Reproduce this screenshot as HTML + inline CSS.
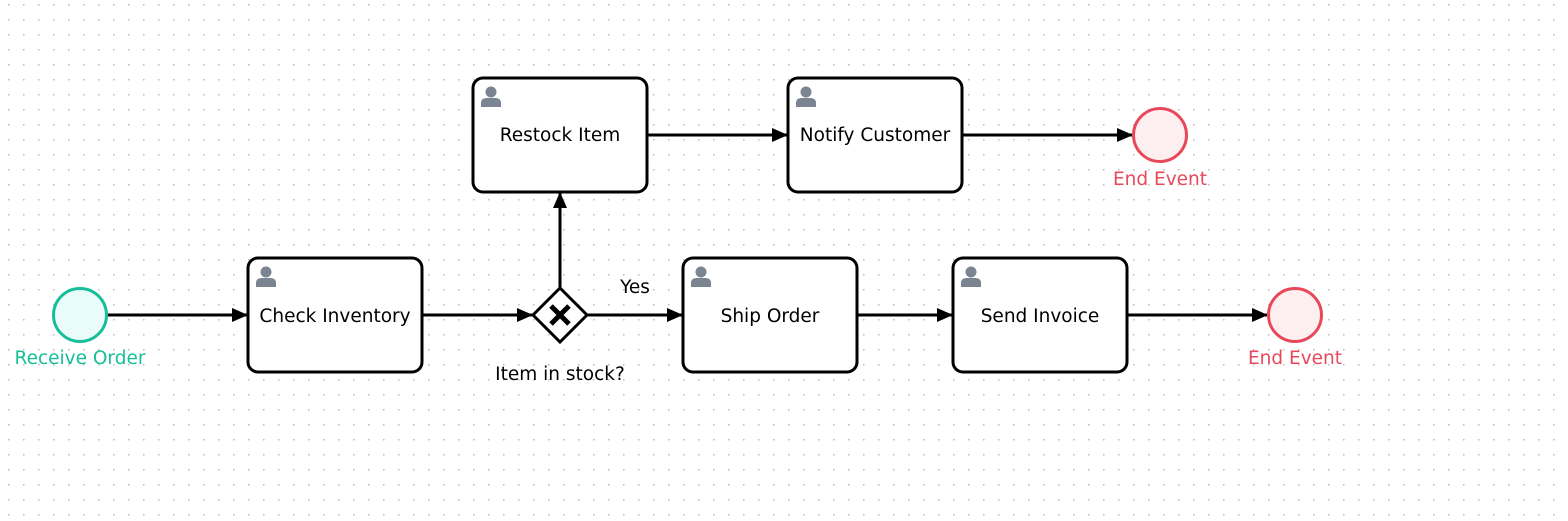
<!DOCTYPE html>
<html><head><style>html,body{margin:0;padding:0;background:#fff}</style></head><body>
<svg width="1568" height="516" xmlns="http://www.w3.org/2000/svg" font-family="'DejaVu Sans', 'Liberation Sans', sans-serif">
<defs>
<pattern id="dots" x="8" y="4" width="15" height="15" patternUnits="userSpaceOnUse"><rect width="1.5" height="1.5" fill="#bbbbbb"/></pattern>
<marker id="ar" markerWidth="16" markerHeight="16" refX="15" refY="8" orient="auto" markerUnits="userSpaceOnUse" viewBox="0 0 16 16"><path d="M0,1 L16,8 L0,15 z" fill="#000"/></marker>
<g id="user"><circle cx="0" cy="-6" r="5.5" fill="#7a8591"/><path d="M-10,9 L-10,5 Q-10,0 -4,0 L4,0 Q10,0 10,5 L10,9 Z" fill="#7a8591"/></g>
</defs>
<rect width="1568" height="516" fill="url(#dots)"/>
<g stroke="#000" stroke-width="3" fill="none" marker-end="url(#ar)">
<line x1="107" y1="315" x2="247" y2="315"/>
<line x1="423" y1="315" x2="532" y2="315"/>
<line x1="588" y1="315" x2="682" y2="315"/>
<line x1="560" y1="288" x2="560" y2="193"/>
<line x1="648" y1="135" x2="787" y2="135"/>
<line x1="963" y1="135" x2="1132" y2="135"/>
<line x1="858" y1="315" x2="952" y2="315"/>
<line x1="1128" y1="315" x2="1267" y2="315"/>
</g>
<circle cx="80" cy="315" r="26.5" fill="#eafcf9" stroke="#17bf99" stroke-width="3"/>
<circle cx="1160" cy="135" r="26.5" fill="#fdeef0" stroke="#e8485a" stroke-width="3"/>
<circle cx="1295" cy="315" r="26.5" fill="#fdeef0" stroke="#e8485a" stroke-width="3"/>
<g fill="#fff" stroke="#000" stroke-width="3">
<rect x="248" y="258" width="174" height="114" rx="10"/>
<rect x="473" y="78" width="174" height="114" rx="10"/>
<rect x="788" y="78" width="174" height="114" rx="10"/>
<rect x="683" y="258" width="174" height="114" rx="10"/>
<rect x="953" y="258" width="174" height="114" rx="10"/>
<path d="M560,288 L587,315 L560,342 L533,315 Z"/>
</g>
<path d="M551,306 L569,324 M569,306 L551,324" stroke="#000" stroke-width="5"/>
<use href="#user" x="266" y="278"/>
<use href="#user" x="491" y="98"/>
<use href="#user" x="806" y="98"/>
<use href="#user" x="701" y="278"/>
<use href="#user" x="971" y="278"/>
<g font-size="18.5" text-anchor="middle" fill="#000">
<text x="335" y="322">Check Inventory</text>
<text x="560" y="141">Restock Item</text>
<text x="875" y="141">Notify Customer</text>
<text x="770" y="322">Ship Order</text>
<text x="1040" y="322">Send Invoice</text>
<text x="560" y="380">Item in stock?</text>
<text x="635" y="293">Yes</text>
<text x="80" y="364" fill="#17bf99">Receive Order</text>
<text x="1160" y="185" fill="#e8485a">End Event</text>
<text x="1295" y="364" fill="#e8485a">End Event</text>
</g>
</svg>
</body></html>
